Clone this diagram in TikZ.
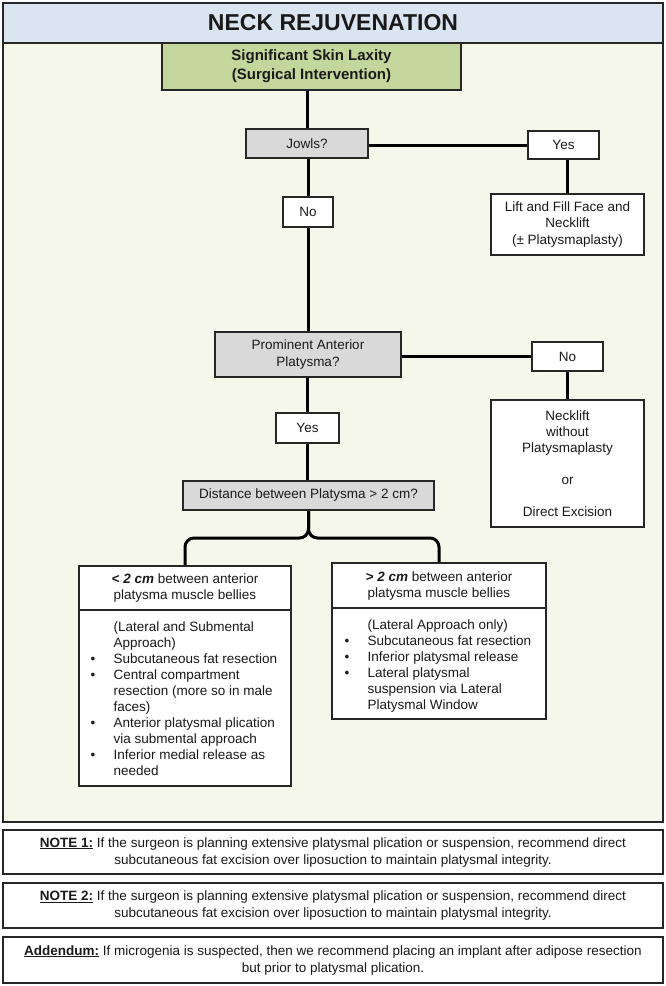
\documentclass[tikz,border=0pt]{standalone}
\usepackage{fontspec}
\setmainfont{Liberation Sans}
\usetikzlibrary{calc}
\definecolor{titlebg}{HTML}{DBE5F1}
\definecolor{panelbg}{HTML}{F4F7EA}
\definecolor{greenbox}{HTML}{C3D69B}
\definecolor{graybox}{HTML}{D9D9D9}
\definecolor{ink}{HTML}{1A1A1A}
\definecolor{edge}{HTML}{262626}
\pgfdeclarelayer{bg}
\pgfdeclarelayer{conns}
\pgfsetlayers{bg,conns,main}
\newcommand{\bul}{\makebox[23pt][l]{\textbullet}}
\newcommand{\nob}{\makebox[23pt][l]{}}
\begin{document}
\begin{tikzpicture}[x=1pt,y=-1pt,
  box/.style={draw=edge, line width=1.6pt, fill=white, inner sep=0pt, outer sep=0pt, text=ink, align=center, font=\fontsize{13.5}{16}\selectfont},
  qbox/.style={box, fill=graybox},
  txt/.style={inner sep=0pt, outer sep=0pt, text=ink, font=\fontsize{13.5}{16}\selectfont},
  conn/.style={draw=black, line width=3pt},
]
\useasboundingbox (0,0) rectangle (666,986);
\begin{pgfonlayer}{bg}
\fill[white] (0,0) rectangle (666,986);
\draw[edge, line width=1.6pt, fill=panelbg] (3,43) rectangle (663,822);
\end{pgfonlayer}
\node[box, fill=titlebg, minimum width=660pt, minimum height=40pt, font=\fontsize{23}{26}\bfseries\selectfont] (title) at (333,23) {NECK REJUVENATION};
\node[box, fill=greenbox, minimum width=299pt, minimum height=47pt, font=\fontsize{15}{19}\bfseries\selectfont] (green) at (311.5,66.5) {Significant Skin Laxity\\(Surgical Intervention)};
\node[qbox, minimum width=122pt, minimum height=29pt] (jowls) at (307,143.5) {Jowls?};
\node[box, minimum width=71pt, minimum height=28pt] (yes1) at (563.5,145) {Yes};
\node[box, minimum width=153pt, minimum height=61pt, font=\fontsize{13.5}{16.5}\selectfont] (lift) at (567.5,224.5) {Lift and Fill Face and\\Necklift\\(± Platysmaplasty)};
\node[box, minimum width=50pt, minimum height=30pt] (no1) at (308,212) {No};
\node[qbox, minimum width=186pt, minimum height=45pt, font=\fontsize{13.5}{17}\selectfont] (prom) at (308,354.5) {Prominent Anterior\\Platysma?};
\node[box, minimum width=71pt, minimum height=29pt] (no2) at (567.5,356.5) {No};
\node[box, minimum width=153pt, minimum height=127pt] (neck) at (567.5,463.5) {Necklift\\without\\Platysmaplasty\\[16pt]or\\[16pt]Direct Excision};
\node[box, minimum width=63pt, minimum height=30pt] (yes2) at (307.5,428) {Yes};
\node[qbox, minimum width=251pt, minimum height=29pt] (dist) at (308.5,495.5) {Distance between Platysma > 2 cm?};
\node[box, minimum width=212pt, minimum height=44pt] (lh) at (185,588) {\textbf{\textit{< 2 cm}} between anterior\\platysma muscle bellies};
\node[box, minimum width=212pt, minimum height=176pt] (lb) at (185,698) {};
\node[box, minimum width=214pt, minimum height=45pt] (rh) at (439,585.5) {\textbf{\textit{> 2 cm}} between anterior\\platysma muscle bellies};
\node[box, minimum width=214pt, minimum height=111pt] (rb) at (439,663.5) {};
\node[txt, anchor=base west] (lbt) at (90.6,631.5) {\begin{tabular}[t]{@{}l@{}}
\nob(Lateral and Submental\\
\nob Approach)\\
\bul Subcutaneous fat resection\\
\bul Central compartment\\
\nob resection (more so in male\\
\nob faces)\\
\bul Anterior platysmal plication\\
\nob via submental approach\\
\bul Inferior medial release as\\
\nob needed
\end{tabular}};
\node[txt, anchor=base west] (rbt) at (344.6,629.5) {\begin{tabular}[t]{@{}l@{}}
\nob(Lateral Approach only)\\
\bul Subcutaneous fat resection\\
\bul Inferior platysmal release\\
\bul Lateral platysmal\\
\nob suspension via Lateral\\
\nob Platysmal Window
\end{tabular}};
\node[box, minimum width=660pt, minimum height=44pt, font=\fontsize{13.5}{17}\selectfont] (note1) at (333,852) {\underline{\textbf{NOTE 1:}} If the surgeon is planning extensive platysmal plication or suspension, recommend direct\\subcutaneous fat excision over liposuction to maintain platysmal integrity.};
\node[box, minimum width=660pt, minimum height=45pt, font=\fontsize{13.5}{17}\selectfont] (note2) at (333,905.5) {\underline{\textbf{NOTE 2:}} If the surgeon is planning extensive platysmal plication or suspension, recommend direct\\subcutaneous fat excision over liposuction to maintain platysmal integrity.};
\node[box, minimum width=660pt, minimum height=46pt, font=\fontsize{13.5}{17}\selectfont] (add) at (333,960) {\underline{\textbf{Addendum:}} If microgenia is suspected, then we recommend placing an implant after adipose resection\\but prior to platysmal plication.};
\begin{pgfonlayer}{conns}
\draw[conn] (jowls.north) -- (jowls.north |- green.south);
\draw[conn] (yes1.west -| jowls.east) -- (yes1.west);
\draw[conn] (lift.north) -- (lift.north |- yes1.south);
\draw[conn] (no1.north) -- (no1.north |- jowls.south);
\draw[conn] (no1.south) -- (no1.south |- prom.north);
\draw[conn] (no2.west -| prom.east) -- (no2.west);
\draw[conn] (no2.south) -- (no2.south |- neck.north);
\draw[conn] (yes2.north) -- (yes2.north |- prom.south);
\draw[conn] (yes2.south) -- (yes2.south |- dist.north);
\path (dist.south) ++(0,28) coordinate (bar);
\draw[conn, rounded corners=9pt] (lh.north) -- (lh.north |- bar) -- (bar) -- (dist.south);
\draw[conn, rounded corners=9pt] (rh.north) -- (rh.north |- bar) -- (bar) -- (dist.south);
\end{pgfonlayer}
\end{tikzpicture}
\end{document}
